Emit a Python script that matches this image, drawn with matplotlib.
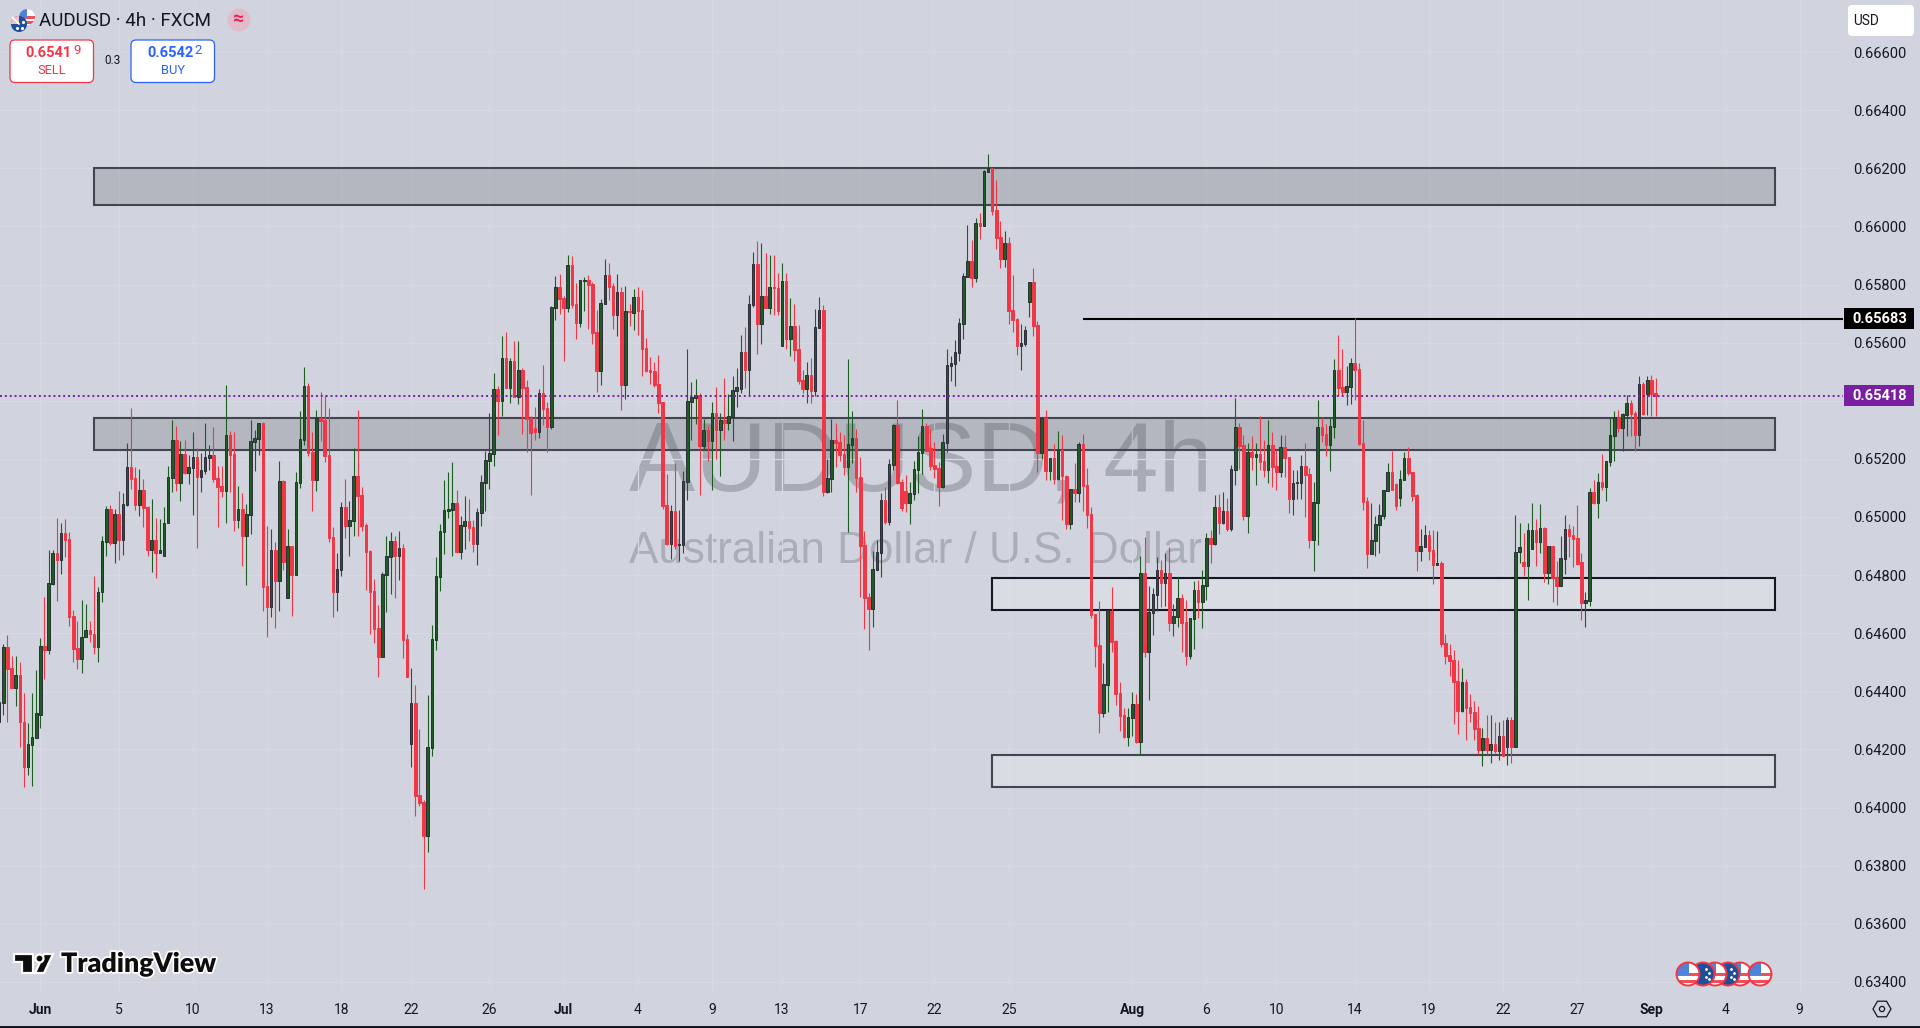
import numpy as np
import matplotlib
matplotlib.use("Agg")
import matplotlib.pyplot as plt
from matplotlib.patches import Rectangle, Circle, FancyBboxPatch, Polygon, RegularPolygon
import matplotlib.patheffects as pe

# AUDUSD 4h candles, prices in 1e-5 units
directions = (
    "GGRRGRRGGG" "GRGGRGRRRR" "GGRRGGGRGR" "GGRRGRRGRG" "GGGRGRGGRG"
    "GGRRRGRRGR" "GGGGRRGRGR" "GRGGGRRGRR" "RRGGRGGRRR" "RRRGGGRGRR"
    "GRRRGGGGGG" "GRGGRRGGGG" "GRGRGRGRRR" "RGRRGGRRGR" "RGGRRRGGRR"
    "GRGRGRRRRR" "RRRGRGGGGG" "RGRGRGRGGG" "GRGGRGRGRR" "GRGRRRGRGG"
    "RGGRRRGGRR" "RRGGGRGGRR" "RGGGGRRRRG" "GGGGGGRGRG" "GRRRGRRRGG"
    "GRRGRGRGRR" "GRGRRRRRGG" "RRRRGGRGRG" "GGRGRGGRRG" "GRGGRGRGRG"
    "GRRGRGRRGR" "RGRRGGGRRG" "GRRGGRRGGR" "RRRGGGGGRR" "GGRRRGGRRG"
    "RRRRRGRRRR" "GRGRGRGRGG" "RGGRGRGRRG" "GRRRRGGRGR" "GGGRGGRRGR"
    "GRR"
)

body_top = [
    64364,64553,64553,64481,64457,64457,64295,64219,64243,64326,
    64556,64556,64772,64876,64875,64944,64944,64923,64659,64548,
    64588,64610,64610,64599,64741,64916,65027,65027,65010,65010,
    65044,65172,65172,65134,65093,65093,65035,64921,64921,64886,
    64981,65137,65265,65265,65217,65217,65172,65206,65206,65161,
    65206,65213,65213,65134,65106,65282,65282,65217,65027,65027,
    65010,65261,65272,65323,65323,64762,64886,64886,65124,65124,
    64900,64900,65120,65268,65451,65451,65223,65340,65340,65333,
    65213,64931,64821,65034,65034,64989,65141,65141,65075,64972,
    64883,64745,64618,64804,64866,64917,64917,64893,64893,64580,
    64360,64360,64043,64019,64208,64580,64797,64951,65024,65027,
    65048,65048,64972,64986,64986,64965,65017,65120,65197,65221,
    65441,65441,65548,65548,65537,65537,65506,65506,65448,65341,
    65307,65427,65427,65375,65723,65792,65792,65754,65868,65868,
    65733,65816,65816,65816,65802,65637,65737,65833,65833,65795,
    65775,65775,65709,65709,65757,65757,65713,65582,65506,65503,
    65458,65396,65042,65021,65021,64908,65124,65400,65413,65420,
    65420,65300,65300,65358,65358,65334,65334,65348,65437,65448,
    65567,65567,65733,65870,65870,65760,65760,65791,65791,65788,
    65812,65812,65657,65657,65578,65471,65488,65488,65654,65712,
    65712,65135,65265,65265,65258,65217,65252,65272,65272,65138,
    64904,64725,64821,64880,65059,65059,65183,65317,65317,65121,
    65090,65083,65165,65224,65314,65314,65238,65179,65169,65258,
    65523,65529,65567,65667,65829,65881,65881,66011,66011,66190,
    66201,66201,66056,65963,65943,65943,65712,65681,65598,65643,
    65808,65808,65660,65339,65339,65203,65203,65230,65230,65141,
    65096,65096,65251,65251,65110,65010,64667,64560,64426,64680,
    64677,64574,64395,64319,64312,64357,64357,64808,64808,64673,
    64735,64818,64818,64808,64808,64660,64722,64722,64639,64653,
    64749,64749,64766,64928,64928,65034,65034,65020,65020,65165,
    65309,65309,65247,65223,65223,65216,65216,65192,65247,65247,
    65175,65241,65241,65207,65117,65121,65176,65176,65148,65052,
    65310,65310,65286,65313,65506,65506,65448,65451,65530,65530,
    65510,65255,65055,64921,64976,65007,65093,65155,65155,65114,
    65131,65203,65203,65155,65076,64900,64938,64938,64887,64841,
    64841,64567,64525,64508,64436,64433,64433,64347,64329,64274,
    64240,64240,64219,64219,64247,64247,64302,64302,64881,64896,
    64845,64956,64956,64956,64962,64962,64900,64900,64793,64858,
    64959,64959,64938,64928,64845,64715,65086,65086,65121,65121,
    65193,65282,65344,65344,65355,65393,65393,65358,65458,65458,
    65472,65472,65427,
]

body_bottom = [
    64296,64361,64478,64410,64410,64293,64141,64141,64217,64240,
    64317,64543,64543,64770,64852,64852,64921,64657,64547,64512,
    64512,64588,64597,64554,64554,64741,64915,64909,64911,64921,
    64921,65041,65131,65041,65041,65031,64886,64886,64877,64877,
    64867,64980,65134,65118,65118,65150,65152,65170,65139,65139,
    65158,65203,65131,65103,65089,65089,65213,64989,64989,64934,
    64934,65007,65258,65268,64759,64690,64690,64780,64780,64845,
    64721,64800,64800,65117,65265,65220,65127,65127,65331,65210,
    64927,64742,64742,64817,64969,64969,64986,65072,64969,64879,
    64742,64614,64518,64518,64800,64862,64866,64866,64577,64449,
    64219,64040,64016,63902,63902,64205,64576,64793,64948,65020,
    65024,64879,64879,64969,64962,64907,64907,65014,65117,65193,
    65217,65400,65400,65444,65444,65413,65413,65444,65338,65289,
    65293,65293,65372,65310,65310,65720,65751,65720,65720,65730,
    65668,65668,65813,65799,65634,65503,65503,65733,65792,65695,
    65695,65455,65455,65706,65702,65709,65579,65503,65499,65455,
    65393,65038,64908,64908,64901,64904,64904,65121,65396,65410,
    65245,65245,65262,65262,65300,65300,65324,65324,65345,65434,
    65442,65506,65506,65729,65664,65664,65719,65719,65788,65709,
    65588,65612,65612,65574,65468,65440,65440,65433,65433,65650,
    65086,65086,65131,65255,65214,65172,65172,65248,65135,64901,
    64722,64684,64684,64818,64877,64983,64983,65179,65117,65031,
    65049,65049,65080,65162,65221,65227,65176,65166,65104,65104,
    65255,65519,65526,65564,65664,65826,65822,65822,66001,66001,
    66187,66053,65960,65888,65888,65709,65678,65588,65588,65595,
    65740,65657,65220,65220,65158,65158,65131,65131,65141,64976,
    64976,65082,65082,65106,65007,64663,64556,64326,64326,64422,
    64570,64391,64316,64243,64243,64309,64226,64226,64536,64536,
    64670,64732,64773,64773,64636,64636,64656,64636,64522,64522,
    64649,64708,64708,64763,64907,64907,64978,64978,64957,64957,
    65161,65244,65003,65003,65207,65207,65189,65161,65161,65172,
    65156,65155,65203,65062,65062,65117,65117,65145,64921,64921,
    65048,65282,65248,65248,65310,65444,65430,65430,65448,65506,
    65251,65052,64873,64873,64918,64973,65004,65090,65093,65038,
    65066,65128,65152,65073,64883,64883,64897,64883,64835,64835,
    64563,64522,64505,64433,64333,64333,64343,64326,64271,64199,
    64199,64199,64199,64195,64195,64176,64210,64210,64210,64878,
    64832,64832,64890,64914,64914,64806,64806,64789,64761,64761,
    64855,64935,64925,64839,64704,64704,64711,65048,65048,65104,
    65104,65190,65279,65307,65307,65351,65355,65282,65282,65355,
    65424,65424,65418,
]

wick_high = [
    64400,64563,64593,64522,64522,64500,64395,64291,64395,64474,
    64584,64724,64886,64886,64995,64981,64993,64948,64680,64642,
    64714,64699,64642,64797,64758,64934,65038,65041,65027,65089,
    65083,65254,65375,65173,65165,65131,65039,65061,64995,64992,
    65035,65175,65334,65313,65261,65265,65213,65292,65239,65221,
    65322,65248,65309,65175,65175,65454,65296,65292,65106,65081,
    65044,65334,65299,65323,65327,64969,64958,64914,65192,65127,
    64958,64900,65155,65365,65516,65461,65292,65368,65430,65420,
    65375,64966,64876,65051,65131,65055,65237,65368,65103,64979,
    64886,64786,64697,64811,64934,64948,64934,64952,64907,64597,
    64480,64422,64270,64026,64387,64628,64862,64976,65127,65155,
    65189,65093,65003,65072,65062,64989,65031,65144,65228,65358,
    65495,65451,65623,65637,65548,65606,65606,65513,65472,65348,
    65379,65441,65523,65396,65726,65830,65837,65761,65902,65899,
    65806,65816,65826,65833,65809,65713,65751,65888,65874,65806,
    65837,65792,65795,65733,65785,65792,65782,65616,65551,65534,
    65558,65396,65148,65042,65186,65024,65159,65579,65465,65475,
    65427,65338,65314,65396,65448,65358,65479,65424,65486,65513,
    65626,65655,65764,65912,65949,65943,65907,65901,65901,65838,
    65874,65838,65753,65733,65660,65506,65532,65546,65715,65756,
    65729,65200,65338,65324,65293,65283,65543,65365,65303,65207,
    64952,64739,64883,64921,65083,65104,65200,65320,65402,65131,
    65145,65121,65193,65279,65372,65324,65303,65258,65190,65286,
    65578,65554,65609,65684,65839,66005,65953,66029,66046,66194,
    66249,66201,66159,66018,65984,65963,65832,65685,65664,65657,
    65808,65857,65674,65339,65368,65203,65251,65296,65282,65144,
    65096,65186,65257,65285,65167,65035,64667,64711,64498,64680,
    64759,64577,64433,64343,64343,64398,64391,64866,64931,64763,
    64756,64863,64852,64876,64897,64701,64794,64735,64715,64653,
    64780,64784,64818,64945,64956,65075,65079,65087,65064,65179,
    65409,65322,65282,65254,65278,65253,65347,65265,65333,65292,
    65230,65282,65282,65208,65162,65162,65214,65254,65168,65121,
    65403,65343,65320,65340,65544,65626,65578,65520,65547,65684,
    65530,65334,65069,65047,65004,65045,65093,65186,65227,65117,
    65162,65224,65241,65155,65079,64959,64973,64956,64956,64952,
    64849,64598,64563,64543,64508,64481,64443,64391,64367,64350,
    64273,64319,64319,64293,64296,64302,64313,64313,65007,64978,
    64944,64978,65048,64992,65045,64967,64900,64900,64849,64935,
    65007,64976,64969,65042,64875,64743,65100,65128,65152,65217,
    65193,65340,65365,65368,65358,65420,65403,65363,65485,65465,
    65485,65489,65479,
]

wick_low = [
    64290,64317,64296,64410,64348,64210,64072,64113,64076,64240,
    64275,64441,64527,64766,64712,64804,64863,64626,64502,64477,
    64464,64588,64571,64528,64502,64708,64866,64903,64843,64852,
    64869,65038,65098,65024,65003,64966,64866,64810,64791,64877,
    64867,64980,65087,65090,65055,65147,65113,65007,64893,65087,
    65148,65161,65120,64966,65069,64980,65086,64952,64962,64831,
    64766,64941,65158,65213,64676,64587,64656,64618,64676,64817,
    64721,64659,64800,65100,65248,65210,65020,65089,65261,65189,
    64914,64656,64676,64797,64927,64866,64934,64934,64952,64749,
    64597,64566,64449,64518,64673,64735,64721,64783,64514,64449,
    64139,63971,64005,63720,63847,64177,64542,64745,64872,64996,
    64865,64876,64855,64890,64917,64879,64835,64969,65021,65097,
    65176,65283,65348,65444,65393,65413,65389,65286,65224,65076,
    65265,65272,65317,65224,65303,65678,65699,65537,65706,65720,
    65613,65654,65709,65647,65596,65431,65455,65733,65747,65647,
    65623,65369,65406,65658,65644,65627,65486,65499,65458,65448,
    65358,65028,64904,64856,64890,64849,64877,65059,65265,65320,
    65076,65234,65193,65093,65200,65141,65265,65300,65262,65379,
    65427,65443,65416,65723,65561,65595,65719,65698,65695,65695,
    65588,65578,65554,65537,65456,65425,65391,65391,65418,65650,
    65072,65083,65086,65172,65193,65145,64949,65186,65086,64725,
    64615,64543,64622,64818,64794,64976,64973,65162,65114,65021,
    65018,64976,65059,65083,65148,65227,65162,65135,65038,65100,
    65225,65468,65450,65537,65612,65826,65791,65808,65956,66001,
    66187,66039,65922,65857,65860,65664,65636,65557,65506,65588,
    65688,65623,65155,65199,65127,65127,65113,65127,64989,64958,
    64960,65053,65053,65022,64961,64654,64484,64257,64312,64329,
    64536,64353,64264,64238,64212,64247,64223,64181,64519,64371,
    64594,64677,64691,64694,64608,64591,64622,64536,64491,64512,
    64546,64653,64618,64715,64842,64904,64943,64976,64953,64953,
    65110,65165,64990,64944,65161,65110,65161,65139,65116,65104,
    65093,65137,65137,65014,65007,65062,65062,65001,64894,64815,
    64904,65258,65210,65159,65272,65417,65417,65386,65389,65403,
    65248,65024,64825,64873,64866,64876,64993,65090,65093,65024,
    65038,65128,65145,65055,64815,64849,64897,64852,64770,64835,
    64554,64494,64453,64288,64254,64329,64233,64293,64233,64185,
    64144,64185,64153,64187,64164,64176,64147,64153,64210,64841,
    64797,64715,64890,64832,64875,64778,64770,64709,64698,64761,
    64804,64862,64829,64835,64646,64623,64692,65045,64997,65093,
    65055,65176,65193,65293,65227,65279,65277,65227,65245,65351,
    65351,65346,65348,
]

# time axis
date_bars = [10, 29, 47, 65, 83, 100, 119, 137, 155, 173, 190, 209, 227, 245,
             275, 293, 310, 329, 347, 365, 383, 401, 419, 437]
date_labels = ["Jun", "5", "10", "13", "18", "22", "26", "Jul", "4", "9", "13", "17",
               "22", "25", "Aug", "6", "10", "14", "19", "22", "27", "Sep", "4", "9"]
month_labels = ["Jun", "Jul", "Aug", "Sep"]

# price axis, 0.654 sits under the last price tag in the reference
price_ticks = [0.634, 0.636, 0.638, 0.640, 0.642, 0.644, 0.646, 0.648, 0.650, 0.652,
               0.654, 0.656, 0.658, 0.660, 0.662, 0.664, 0.666]
hidden_tick = 0.654

# drawn zones: first bar, last bar, low, high
zone_first = [23, 23, 241, 241]
zone_last = [431, 431, 431, 431]
zone_low = [0.66073, 0.65231, 0.64680, 0.64071]
zone_high = [0.66201, 0.65342, 0.64791, 0.64182]
zone_fill = ["#41454b", "#41454b", "#ffffff", "#ffffff"]
zone_edge = ["#434651", "#434651", "#131722", "#434651"]

resistance_price = 0.65683
resistance_start = 263
last_price = 0.65418

BG = "#d1d4de"
UP = "#1b5e20"
UP_EDGE = "#2a2e39"
DOWN = "#f23645"
TEXT = "#131722"
PURPLE = "#7b1fa2"
FONT = ["Roboto", "DejaVu Sans"]

fig = plt.figure(figsize=(19.2, 10.28), dpi=100, facecolor=BG)
ax = fig.add_axes([0, 35 / 1028, 1843 / 1920, 993 / 1028], facecolor=BG)

top = np.array(body_top) / 1e5
bottom = np.array(body_bottom) / 1e5
high = np.array(wick_high) / 1e5
low = np.array(wick_low) / 1e5
is_up = np.array([d == "G" for d in directions])
bars = np.arange(len(top))

ax.set_xlim(0.2, 447.5)
ax.set_ylim(0.63362, 0.66779)

# watermark
ax.text(0.5, 0.532, "AUDUSD, 4h", transform=ax.transAxes, ha="center", va="center",
        fontsize=71.5, family="Liberation Sans", color="#878a94", alpha=0.55, zorder=0)
ax.text(0.497, 0.445, "Australian Dollar / U.S. Dollar", transform=ax.transAxes, ha="center",
        va="center", fontsize=31.7, family="Liberation Sans", color="#878a94", alpha=0.5, zorder=0)

ax.grid(True, color="#d6d9e2", lw=0.9, zorder=0.5)
ax.set_axisbelow(True)

for i in range(len(zone_low)):
    x0, x1 = zone_first[i], zone_last[i]
    y0, y1 = zone_low[i], zone_high[i]
    ax.add_patch(Rectangle((x0, y0), x1 - x0, y1 - y0, facecolor=zone_fill[i], alpha=0.2,
                           edgecolor="none", zorder=1))
    ax.add_patch(Rectangle((x0, y0), x1 - x0, y1 - y0, fill=False, edgecolor=zone_edge[i],
                           lw=1.5, zorder=1.2))

ax.plot([resistance_start, 447.5], [resistance_price, resistance_price], color="#000000",
        lw=1.5, solid_capstyle="butt", zorder=2)

# candles
ax.vlines(bars[is_up], low[is_up], high[is_up], color=UP, lw=0.8, zorder=3)
ax.vlines(bars[~is_up], low[~is_up], high[~is_up], color=DOWN, lw=0.8, zorder=3)
ax.bar(bars[is_up], top[is_up] - bottom[is_up], bottom=bottom[is_up], width=0.62,
       color=UP, edgecolor=UP_EDGE, lw=0.7, zorder=3.2)
ax.bar(bars[~is_up], top[~is_up] - bottom[~is_up], bottom=bottom[~is_up], width=0.62,
       color=DOWN, edgecolor=DOWN, lw=0.7, zorder=3.2)

ax.axhline(last_price, color=PURPLE, lw=1.4, linestyle=(0, (1, 1.5)), zorder=5)

# axes text
ax.yaxis.tick_right()
ax.set_yticks(price_ticks)
ax.set_yticklabels(["" if p == hidden_tick else f"{p:.5f}" for p in price_ticks],
                   family=FONT, fontsize=10.5, color=TEXT)
ax.set_xticks(date_bars)
ax.set_xticklabels(date_labels, family=FONT, fontsize=10, color=TEXT)
for lbl in ax.get_xticklabels():
    if lbl.get_text() in month_labels:
        lbl.set_fontweight("bold")
ax.tick_params(axis="x", length=0, pad=7.5)
ax.tick_params(axis="y", length=0, pad=7.5)
for s in ax.spines.values():
    s.set_visible(False)

# overlay in screen pixels for the interface bits
ui = fig.add_axes([0, 0, 1, 1], facecolor="none")
ui.set_xlim(0, 1920)
ui.set_ylim(1028, 0)
ui.axis("off")


def price_y(p):
    # screen row of a price on the main axes
    return 1028 - ax.transData.transform((0, p))[1]


def price_tag(p, color):
    y = price_y(p)
    ui.add_patch(Rectangle((1844, y - 10.5), 70, 21, facecolor=color, edgecolor="none", zorder=6))
    ui.text(1880, y, f"{p:.5f}", color="white", fontsize=10.5, family=FONT, fontweight="bold",
            ha="center", va="center", zorder=7)


price_tag(resistance_price, "#000000")
price_tag(last_price, PURPLE)

ui.add_patch(Rectangle((0, 1026), 1920, 2, facecolor="#131722", edgecolor="none"))

# currency box
ui.add_patch(FancyBboxPatch((1850, 7), 62, 27, boxstyle="round,pad=2,rounding_size=4",
                            facecolor="white", edgecolor="none"))
ui.text(1853, 21, "USD", color=TEXT, fontsize=9.8, family=FONT, va="center")


def clipped(patch, circle):
    ui.add_patch(patch)
    patch.set_clip_path(circle)


def us_flag(cx, cy, r, edge=None):
    circ = Circle((cx, cy), r, facecolor="white", edgecolor="none", zorder=3)
    ui.add_patch(circ)
    for k in range(3):
        clipped(Rectangle((cx - r, cy + r * (0.0 + k * 0.62) - r * 0.1), 2 * r, r * 0.3,
                          facecolor="#f0505a", edgecolor="none", zorder=3), circ)
    clipped(Rectangle((cx - r, cy - r), r * 1.05, r * 1.05, facecolor="#4f83d9",
                      edgecolor="none", zorder=3), circ)
    if edge:
        ui.add_patch(Circle((cx, cy), r, facecolor="none", edgecolor=edge, lw=1.4, zorder=3))


def au_flag(cx, cy, r):
    circ = Circle((cx, cy), r, facecolor="#1d4f9c", edgecolor="none", zorder=3.5)
    ui.add_patch(circ)
    clipped(Rectangle((cx - r, cy - r), r, r, facecolor="#f6c0c6", edgecolor="none", zorder=3.5), circ)
    ui.plot([cx - r * 0.8, cx], [cy - r * 0.8, cy], color="white", lw=1.2, zorder=3.6)
    for dx, dy in [(0.35, 0.45), (0.5, -0.3), (-0.3, 0.5)]:
        ui.plot(cx + dx * r, cy + dy * r, marker=".", ms=2.5, color="white", zorder=3.6)


# symbol header
us_flag(27, 17, 8)
au_flag(19, 24, 8)
ui.text(39, 21, "AUDUSD · 4h · FXCM", color=TEXT, fontsize=13.5, family=FONT, va="center")
ui.add_patch(Circle((239, 20), 11.5, facecolor="#e0bccb", edgecolor="none"))
ui.text(239, 19, "≈", color="#e91e63", fontsize=14, family=FONT, ha="center", va="center", fontweight="bold")

# buy and sell buttons
for x0, col in [(10, DOWN), (131, "#2962ff")]:
    ui.add_patch(FancyBboxPatch((x0 + 4, 44), 75.5, 34.5, boxstyle="round,pad=4,rounding_size=5",
                                facecolor="white", edgecolor=col, lw=0.9))
ui.text(48, 53, "0.6541", color=DOWN, fontsize=10.5, family=FONT, fontweight="bold", ha="center", va="center")
ui.text(77, 51, "9", color=DOWN, fontsize=9.5, family=FONT, ha="center", va="center")
ui.text(52, 70, "SELL", color=DOWN, fontsize=9.3, family=FONT, ha="center", va="center")
ui.text(170, 53, "0.6542", color="#2962ff", fontsize=10.5, family=FONT, fontweight="bold", ha="center", va="center")
ui.text(198, 51, "2", color="#2962ff", fontsize=9.5, family=FONT, ha="center", va="center")
ui.text(173, 70, "BUY", color="#2962ff", fontsize=9.3, family=FONT, ha="center", va="center")
ui.text(113, 61, "0.3", color=TEXT, fontsize=8.5, family=FONT, ha="center", va="center")

# TradingView logo
halo = [pe.withStroke(linewidth=2.5, foreground="white")]
logo = [
    Polygon([(14, 954), (33, 954), (33, 973), (22, 973), (22, 962), (14, 962)]),
    Polygon([(44, 954), (53, 954), (44, 973), (35, 973)]),
    Circle((39.5, 958.5), 4),
]
for shp in logo:
    shp.set(facecolor="#0d0d0d", edgecolor="white", lw=1.6, zorder=4)
    ui.add_patch(shp)
ui.text(61, 964, "TradingView", color="#0d0d0d", fontsize=19.3, family="Lato", fontweight="heavy",
        va="center", path_effects=halo, zorder=4)

# economic calendar markers
for cx, kind in [(1740, "us"), (1728, "au"), (1715, "us"), (1703, "au"), (1688, "us"), (1760, "us")]:
    if kind == "us":
        us_flag(cx, 974, 11.5, edge=DOWN)
    else:
        circ = Circle((cx, 974), 11.5, facecolor="#1d4f9c", edgecolor=DOWN, lw=1.4, zorder=3)
        ui.add_patch(circ)
        for dx, dy in [(3, -5), (6, -1), (3, 3), (6, 5)]:
            ui.plot(cx + dx, 974 + dy, marker=".", ms=2, color="white", zorder=3)

# settings icon
ui.add_patch(RegularPolygon((1882, 1009), 6, radius=9, orientation=np.pi / 2, facecolor="none",
                            edgecolor=TEXT, lw=0.9))
ui.add_patch(Circle((1882, 1009), 2.6, facecolor="none", edgecolor=TEXT, lw=0.9))

fig.savefig("out.png", dpi=100, facecolor=BG)
